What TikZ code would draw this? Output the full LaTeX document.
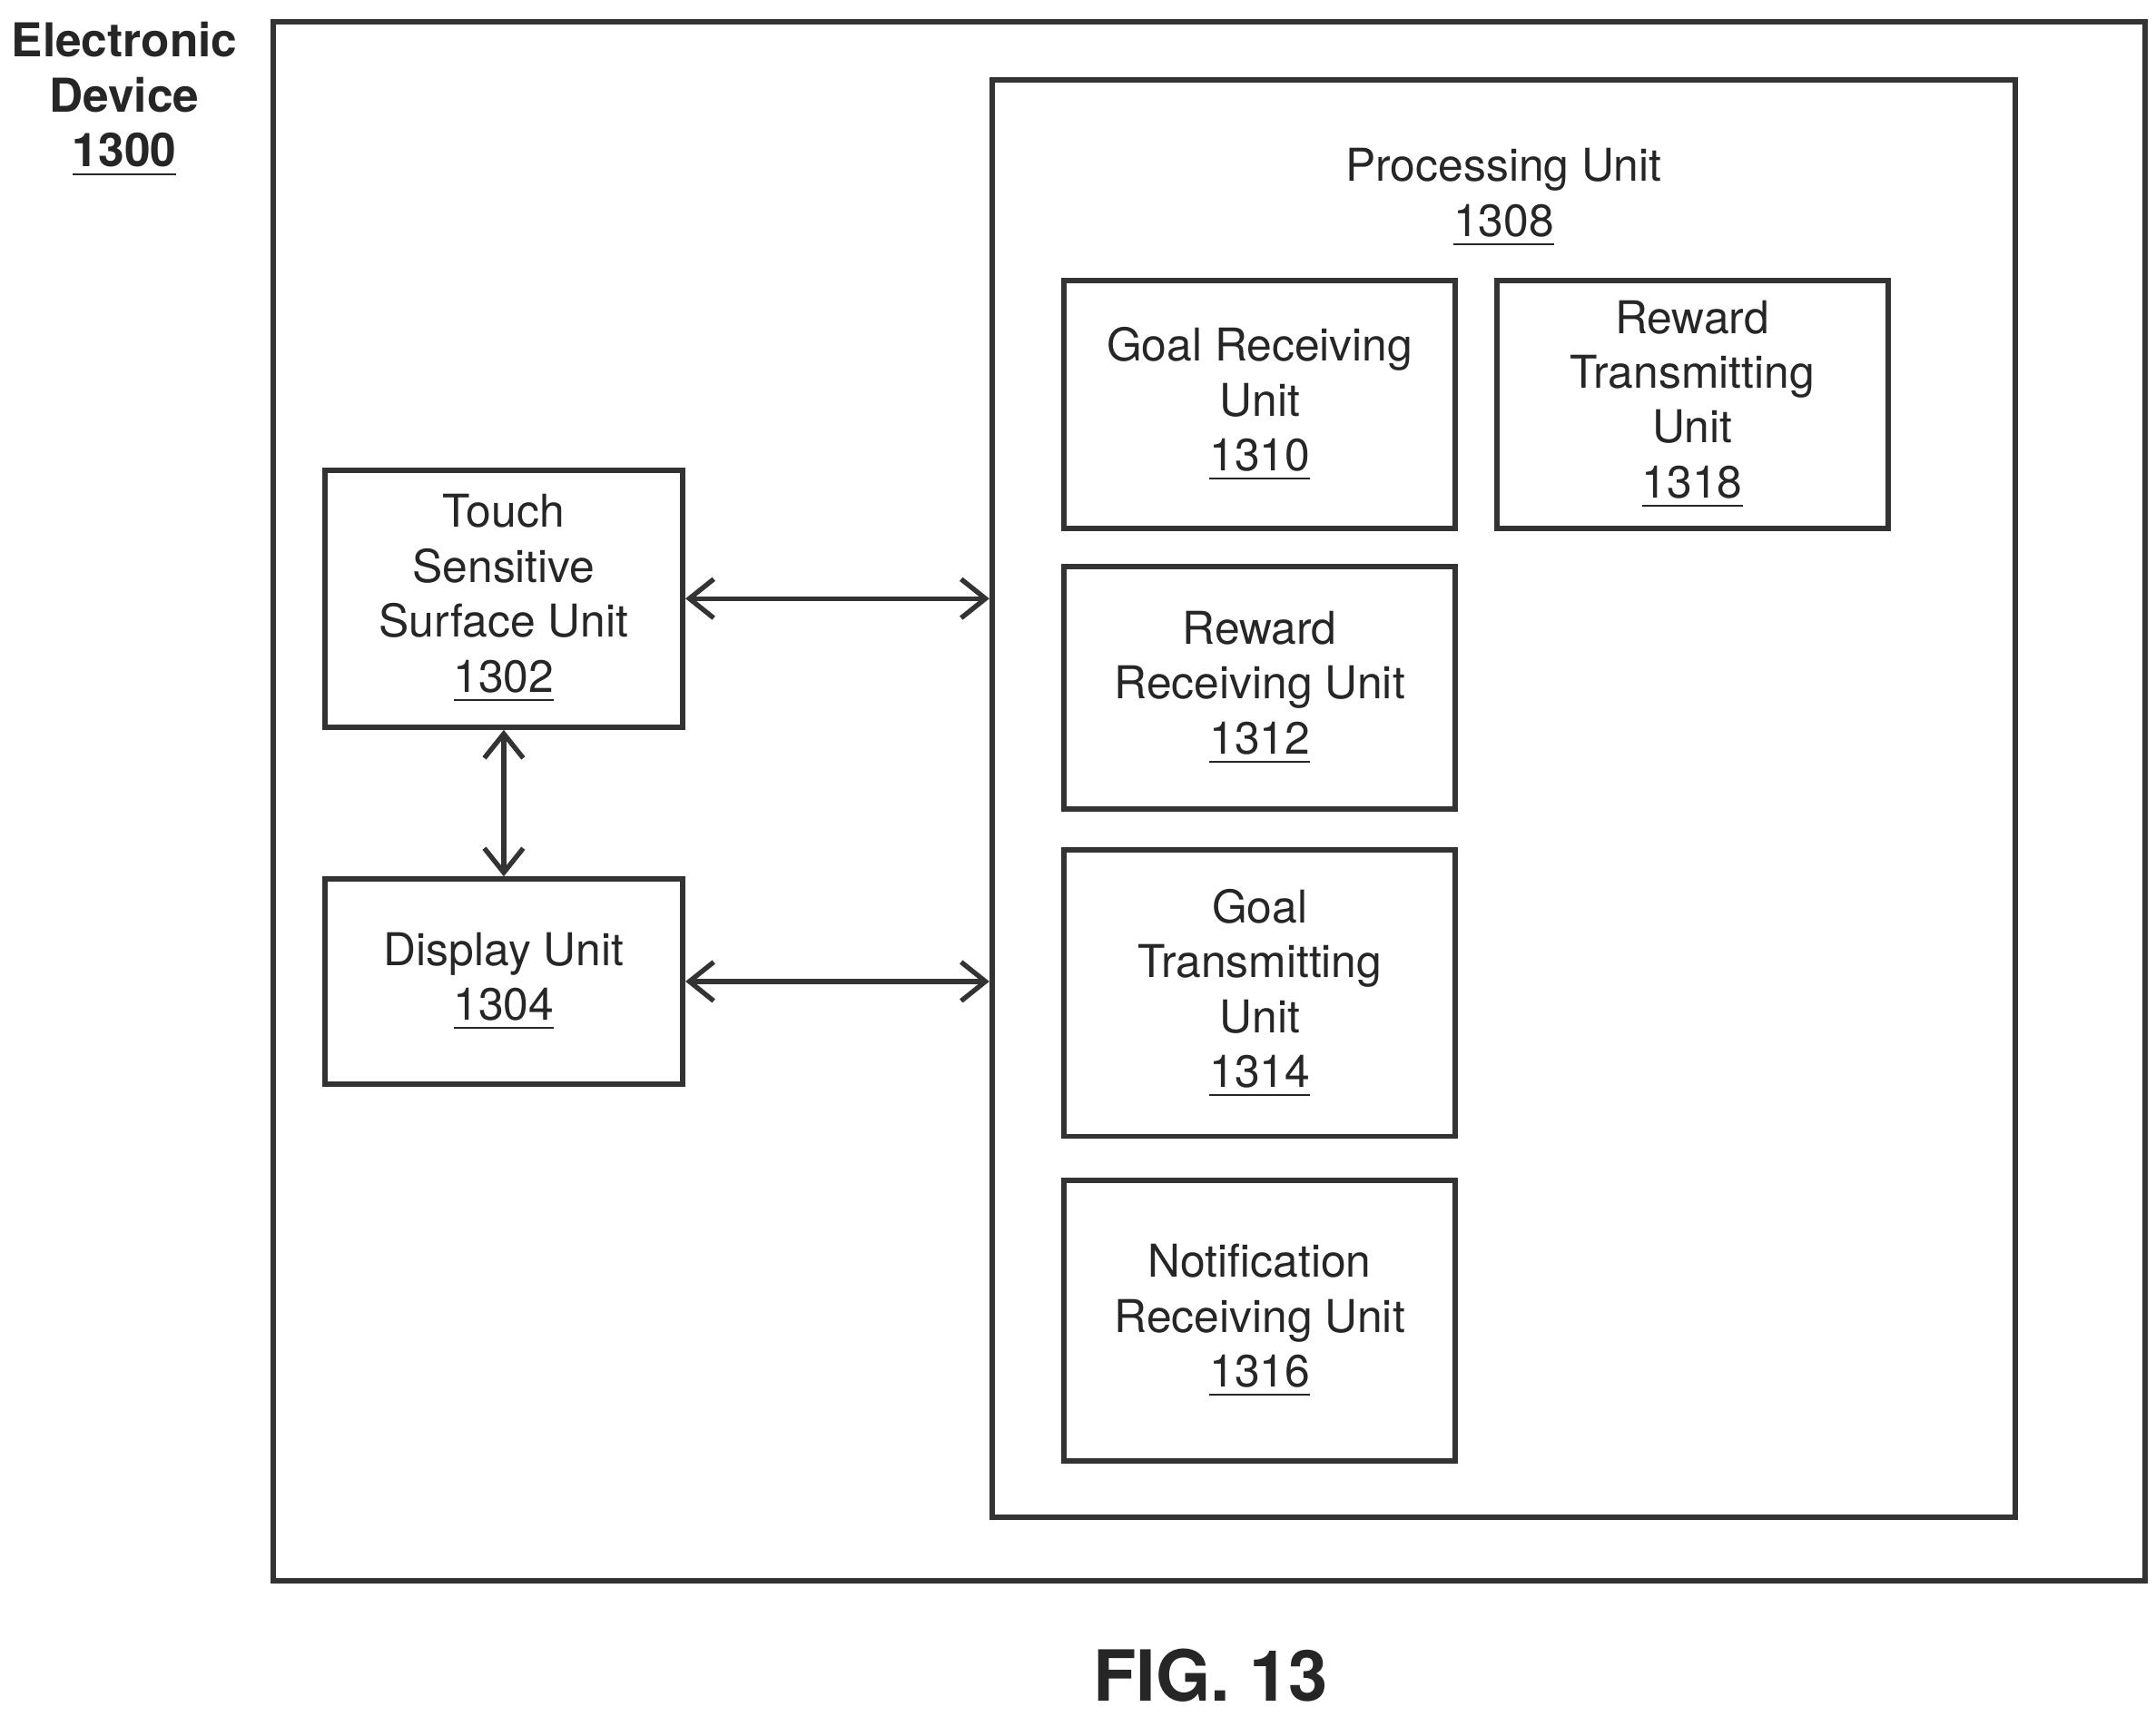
\documentclass[tikz,border=0pt]{standalone}
\usepackage{fontspec}
\setmainfont{TeX Gyre Heros}
\usetikzlibrary{arrows.meta}
\tikzset{
  unit/.style={draw=black!80, line width=1.1pt, align=center, inner sep=0pt,
    font=\fontsize{9.3}{11.3}\selectfont, text=black!85},
  link/.style={draw=black!80, line width=1pt, {Straight Barb[length=5pt,width=8pt]}-{Straight Barb[length=5pt,width=8pt]}}
}
\begin{document}
\begin{tikzpicture}[x=0.01cm,y=-0.01cm]
\useasboundingbox (0,0) rectangle (1560,1242);
\node[unit, minimum width=13.54cm, minimum height=11.27cm] (device) at (875,579.5) {};
\node[align=center, font=\bfseries\fontsize{9.6}{11.3}\selectfont, text=black!85] (devlabel) at (90,72) {Electronic\\Device\\\underline{1300}};
\node[unit, minimum width=7.40cm, minimum height=10.39cm] (proc) at (1088,577.5) {};
\node[align=center, font=\fontsize{9.3}{11.3}\selectfont, text=black!85] (proclabel) at (1088,143) {Processing Unit\\\underline{1308}};
\node[unit, minimum width=2.83cm, minimum height=1.79cm] (goalrx) at (911.5,292.5) {Goal Receiving\\Unit\\\underline{1310}};
\node[unit, minimum width=2.83cm, minimum height=1.79cm] (rewardtx) at (1224.5,292.5) {Reward\\Transmitting\\Unit\\\underline{1318}};
\node[unit, minimum width=2.83cm, minimum height=1.75cm] (rewardrx) at (911.5,497.5) {Reward\\Receiving Unit\\\underline{1312}};
\node[unit, minimum width=2.83cm, minimum height=2.07cm] (goaltx) at (911.5,718.5) {Goal\\Transmitting\\Unit\\\underline{1314}};
\node[unit, minimum width=2.83cm, minimum height=2.03cm] (notifyrx) at (911.5,955.5) {Notification\\Receiving Unit\\\underline{1316}};
\node[unit, minimum width=2.59cm, minimum height=1.86cm] (touch) at (364.5,433) {Touch\\Sensitive\\Surface Unit\\\underline{1302}};
\node[unit, minimum width=2.59cm, minimum height=1.48cm] (display) at (364.5,710) {Display Unit\\\underline{1304}};
\draw[link] (touch.east) -- (touch.east -| proc.west);
\draw[link] (display.east) -- (display.east -| proc.west);
\draw[link] (touch.south) -- (display.north);
\node[font=\bfseries\fontsize{14.5}{17}\selectfont, text=black!85] (fig) at (876,1212) {FIG. 13};
\end{tikzpicture}
\end{document}
